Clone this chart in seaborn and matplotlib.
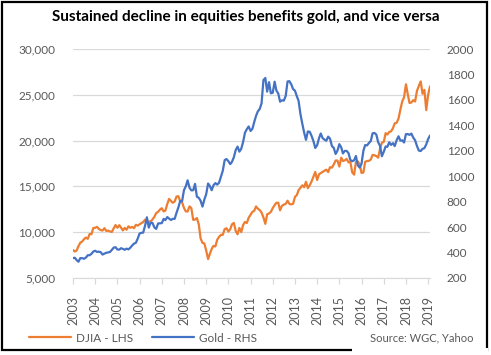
import pandas as pd
import matplotlib.pyplot as plt
import seaborn as sns
from matplotlib.patches import Rectangle
from matplotlib.lines import Line2D

# monthly values, Jan 2003 - Feb 2019
djia = [
    8054, 7891, 7992, 8480, 8850, 8985, 9233, 9415, 9275, 9801, 9782, 10453,
    10488, 10583, 10357, 10226, 10188, 10435, 10140, 10174, 10080, 10027, 10428, 10783,
    10490, 10766, 10504, 10193, 10467, 10275, 10641, 10482, 10569, 10440, 10806, 10718,
    10865, 10993, 11109, 11367, 11168, 11150, 11186, 11381, 11679, 12081, 12222, 12463,
    12622, 12269, 12354, 13063, 13628, 13409, 13212, 13358, 13896, 13930, 13372, 13265,
    12650, 12266, 12263, 12820, 12638, 11350, 11378, 11544, 10851, 9325, 8829, 8776,
    8001, 7063, 7609, 8168, 8500, 8447, 9172, 9496, 9712, 9713, 10345, 10428,
    10067, 10325, 10857, 11009, 10137, 9774, 10466, 10015, 10788, 11118, 11006, 11578,
    11892, 12226, 12320, 12811, 12570, 12414, 12143, 11614, 10913, 11955, 12046, 12218,
    12633, 12952, 13212, 13214, 12393, 12880, 13009, 13091, 13437, 13096, 13026, 13104,
    13861, 14054, 14579, 14840, 15116, 14910, 15500, 14810, 15130, 15546, 16086, 16577,
    15699, 16322, 16458, 16581, 16717, 16827, 16563, 17098, 17043, 17391, 17828, 17823,
    17165, 18133, 17776, 17841, 18011, 17620, 17690, 16528, 16285, 17664, 17720, 17425,
    16466, 16517, 17685, 17774, 17787, 17930, 18432, 18401, 18308, 18142, 19124, 19763,
    19864, 20812, 20663, 20941, 21009, 21350, 21891, 21948, 22405, 23377, 24272, 24719,
    26149, 25029, 24103, 24163, 24416, 24271, 25415, 25965, 26458, 25116, 25538, 23327,
    25000, 25916,
]
gold = [
    357, 359, 341, 328, 356, 356, 351, 360, 379, 379, 390, 408,
    414, 405, 407, 403, 384, 392, 398, 401, 405, 421, 439, 442,
    424, 423, 434, 429, 422, 431, 425, 438, 456, 470, 477, 510,
    550, 555, 557, 611, 677, 596, 634, 633, 598, 586, 628, 630,
    631, 665, 655, 679, 667, 656, 665, 665, 713, 755, 806, 803,
    890, 922, 968, 910, 889, 890, 940, 839, 830, 807, 761, 816,
    859, 943, 924, 890, 929, 946, 934, 949, 997, 1043, 1127, 1135,
    1118, 1095, 1113, 1149, 1205, 1233, 1193, 1216, 1271, 1342, 1370, 1391,
    1356, 1373, 1424, 1474, 1510, 1529, 1573, 1756, 1772, 1665, 1739, 1652,
    1656, 1743, 1674, 1650, 1586, 1597, 1594, 1630, 1745, 1747, 1722, 1685,
    1672, 1628, 1593, 1488, 1414, 1343, 1286, 1352, 1349, 1317, 1276, 1222,
    1244, 1300, 1336, 1299, 1288, 1279, 1311, 1295, 1237, 1223, 1175, 1201,
    1252, 1227, 1179, 1199, 1199, 1182, 1128, 1118, 1125, 1159, 1086, 1068,
    1098, 1200, 1245, 1242, 1261, 1276, 1337, 1340, 1327, 1267, 1238, 1157,
    1192, 1234, 1231, 1267, 1246, 1260, 1237, 1283, 1314, 1280, 1282, 1265,
    1331, 1331, 1325, 1335, 1304, 1282, 1238, 1202, 1198, 1215, 1221, 1250,
    1292, 1320,
]
years = list(range(2003, 2020))
left_ticks = [5000, 10000, 15000, 20000, 25000, 30000]
right_ticks = list(range(200, 2001, 200))

dates = pd.date_range("2003-01-01", periods=len(djia), freq="MS")
df = pd.DataFrame({"Date": dates, "DJIA": djia, "Gold": gold})

sns.set_style("white")
plt.rcParams["font.family"] = ["Lato", "DejaVu Sans"]

orange = "#ED7D31"
blue = "#4472C4"
grey_txt = "#595959"
grid_c = "#D9D9D9"

fig = plt.figure(figsize=(4.91, 3.55), dpi=100)
ax = fig.add_axes([73 / 491, 77 / 355, 357 / 491, 229 / 355])
ax2 = ax.twinx()

sns.lineplot(data=df, x="Date", y="DJIA", ax=ax, color=orange, lw=1.6)
sns.lineplot(data=df, x="Date", y="Gold", ax=ax2, color=blue, lw=1.6)

ax.set_xlim(dates[0], dates[-1])
ax.set_ylim(5000, 30000)
ax2.set_ylim(200, 2000)
ax.set_yticks(left_ticks)
ax.set_yticklabels([f"{v:,}" for v in left_ticks])
ax2.set_yticks(right_ticks)
ax.set_xticks([pd.Timestamp(f"{y}-01-01") for y in years])
ax.set_xticklabels([str(y) for y in years], rotation=90, va="top")

ax.yaxis.grid(True, color=grid_c, lw=0.9)
ax.set_axisbelow(True)
for a in (ax, ax2):
    for s in a.spines.values():
        s.set_visible(False)
    a.set_xlabel("")
    a.set_ylabel("")
ax.spines["bottom"].set_visible(True)
ax.spines["bottom"].set_color(grid_c)
ax.tick_params(axis="x", bottom=True, direction="out", length=4, width=0.9, color=grid_c,
               labelcolor=grey_txt, labelsize=9, pad=9)
ax.tick_params(axis="y", length=0, labelcolor=grey_txt, labelsize=8.5, pad=13)
ax2.tick_params(axis="y", length=0, labelcolor=grey_txt, labelsize=8.5, pad=12)

fig.text(0.5, 1 - 17 / 355, "Sustained decline in equities benefits gold, and vice versa",
         ha="center", va="center", fontsize=11, fontweight="bold", color="black")

handles = [Line2D([], [], color=orange, lw=1.6), Line2D([], [], color=blue, lw=1.6)]
fig.legend(handles, ["DJIA - LHS", "Gold - RHS"], loc="center left",
           bbox_to_anchor=(18 / 491, 1 - 338 / 355), ncol=2, frameon=False,
           fontsize=8.5, handlelength=3.6, handletextpad=0.4, columnspacing=1.6,
           labelcolor=grey_txt)
fig.text(473 / 491, 1 - 338 / 355, "Source: WGC, Yahoo", ha="right", va="center",
         fontsize=8, color=grey_txt)

fig.patches.append(Rectangle((1.5 / 491, 5 / 355), 485 / 491, 348 / 355, transform=fig.transFigure,
                             fill=False, edgecolor="black", lw=1.6))
fig.patches.append(Rectangle((352 / 491, 0), 136 / 491, 7.5 / 355, transform=fig.transFigure,
                             facecolor="white", edgecolor="none"))

fig.savefig("out.png", dpi=100)
